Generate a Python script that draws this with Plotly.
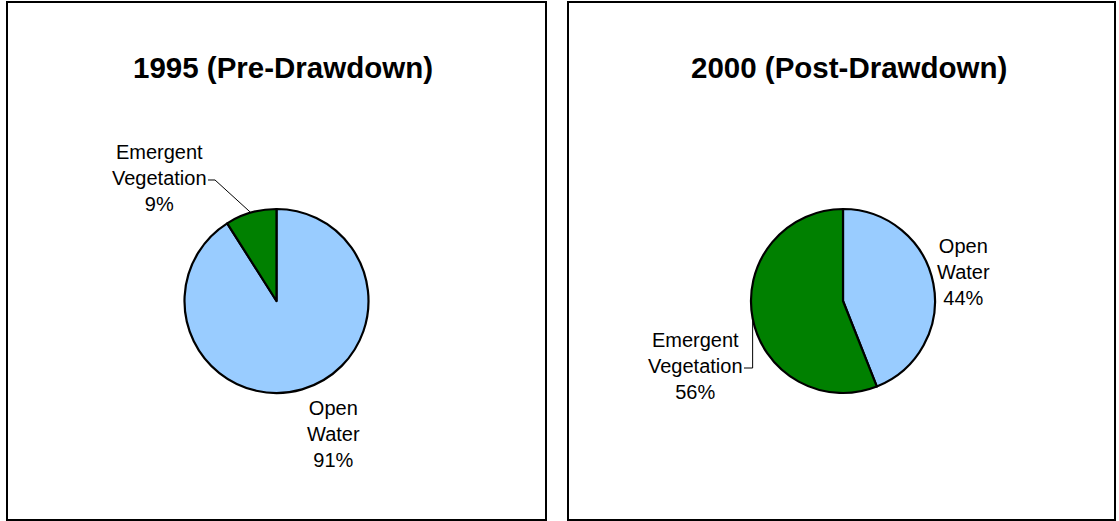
import math
import plotly.graph_objects as go

# Land-cover shares of the impoundment before and after the drawdown
categories = ["Open Water", "Emergent Vegetation"]
panel_titles = ["1995 (Pre-Drawdown)", "2000 (Post-Drawdown)"]
share_1995 = [91, 9]
share_2000 = [44, 56]

W, H = 1119, 521
SLICE_COLORS = ["#99CCFF", "#008000"]
FONT = "Arial, Liberation Sans, Helvetica, sans-serif"

# Layout for each panel (pixel units, origin top-left)
panels = [
    dict(
        title=panel_titles[0], values=share_1995,
        box=(7, 2, 546, 520), center=(276.5, 301), radius=92,
        title_xy=(282.5, 68),
        # label centre, and optional leader route (elbow, end of tick)
        labels=[
            dict(xy=(333, 434)),
            dict(xy=(159, 178), elbow=(215, 180), tick_end=(208, 180)),
        ],
    ),
    dict(
        title=panel_titles[1], values=share_2000,
        box=(568, 2, 1115, 520), center=(843, 301), radius=92,
        title_xy=(848.5, 68),
        labels=[
            dict(xy=(963, 272)),
            dict(xy=(695, 366), elbow=(None, 368), tick_end=(744, 368)),
        ],
    ),
]


def px(x):
    return x / W


def py(y):
    return 1 - y / H


fig = go.Figure()
shapes = []
annotations = []

for p in panels:
    cx, cy = p["center"]
    r = p["radius"]
    fig.add_trace(go.Pie(
        labels=categories,
        values=p["values"],
        sort=False,
        direction="clockwise",
        rotation=0,
        textinfo="none",
        hoverinfo="label+percent",
        marker=dict(colors=SLICE_COLORS, line=dict(color="black", width=2.2)),
        domain=dict(x=[px(cx - r), px(cx + r)], y=[py(cy + r), py(cy - r)]),
        showlegend=False,
    ))

    # panel frame
    x0, y0, x1, y1 = p["box"]
    shapes.append(dict(type="rect", xref="paper", yref="paper",
                       x0=px(x0), x1=px(x1), y0=py(y1), y1=py(y0),
                       line=dict(color="black", width=2), fillcolor="rgba(0,0,0,0)"))

    # panel title
    tx, ty = p["title_xy"]
    annotations.append(dict(text="<b>%s</b>" % p["title"], x=px(tx), y=py(ty),
                            xref="paper", yref="paper", showarrow=False,
                            xanchor="center", yanchor="middle",
                            font=dict(family=FONT, size=29.5, color="black")))

    # slice labels with percentages derived from the values
    total = sum(p["values"])
    start = 0.0
    for name, val, lab in zip(categories, p["values"], p["labels"]):
        frac = val / total
        mid = (start + frac / 2) * 2 * math.pi  # clockwise from 12 o'clock
        start += frac
        pct = round(frac * 100)
        text = "<br>".join(name.split(" ")) + "<br>%d%%" % pct
        lx, ly = lab["xy"]
        annotations.append(dict(text=text, x=px(lx), y=py(ly),
                                xref="paper", yref="paper", showarrow=False,
                                xanchor="center", yanchor="middle", align="center",
                                font=dict(family=FONT, size=20, color="black")))
        if "elbow" in lab:
            ex = cx + r * math.sin(mid)
            ey = cy - r * math.cos(mid)
            bx, by = lab["elbow"]
            if bx is None:
                bx = ex
            tx2, ty2 = lab["tick_end"]
            path = "M %f,%f L %f,%f L %f,%f" % (px(ex), py(ey), px(bx), py(by), px(tx2), py(ty2))
            shapes.append(dict(type="path", xref="paper", yref="paper", path=path,
                               line=dict(color="black", width=1)))

fig.update_layout(
    width=W, height=H,
    margin=dict(l=0, r=0, t=0, b=0),
    paper_bgcolor="white", plot_bgcolor="white",
    shapes=shapes, annotations=annotations,
)

fig.write_html("out.html")
